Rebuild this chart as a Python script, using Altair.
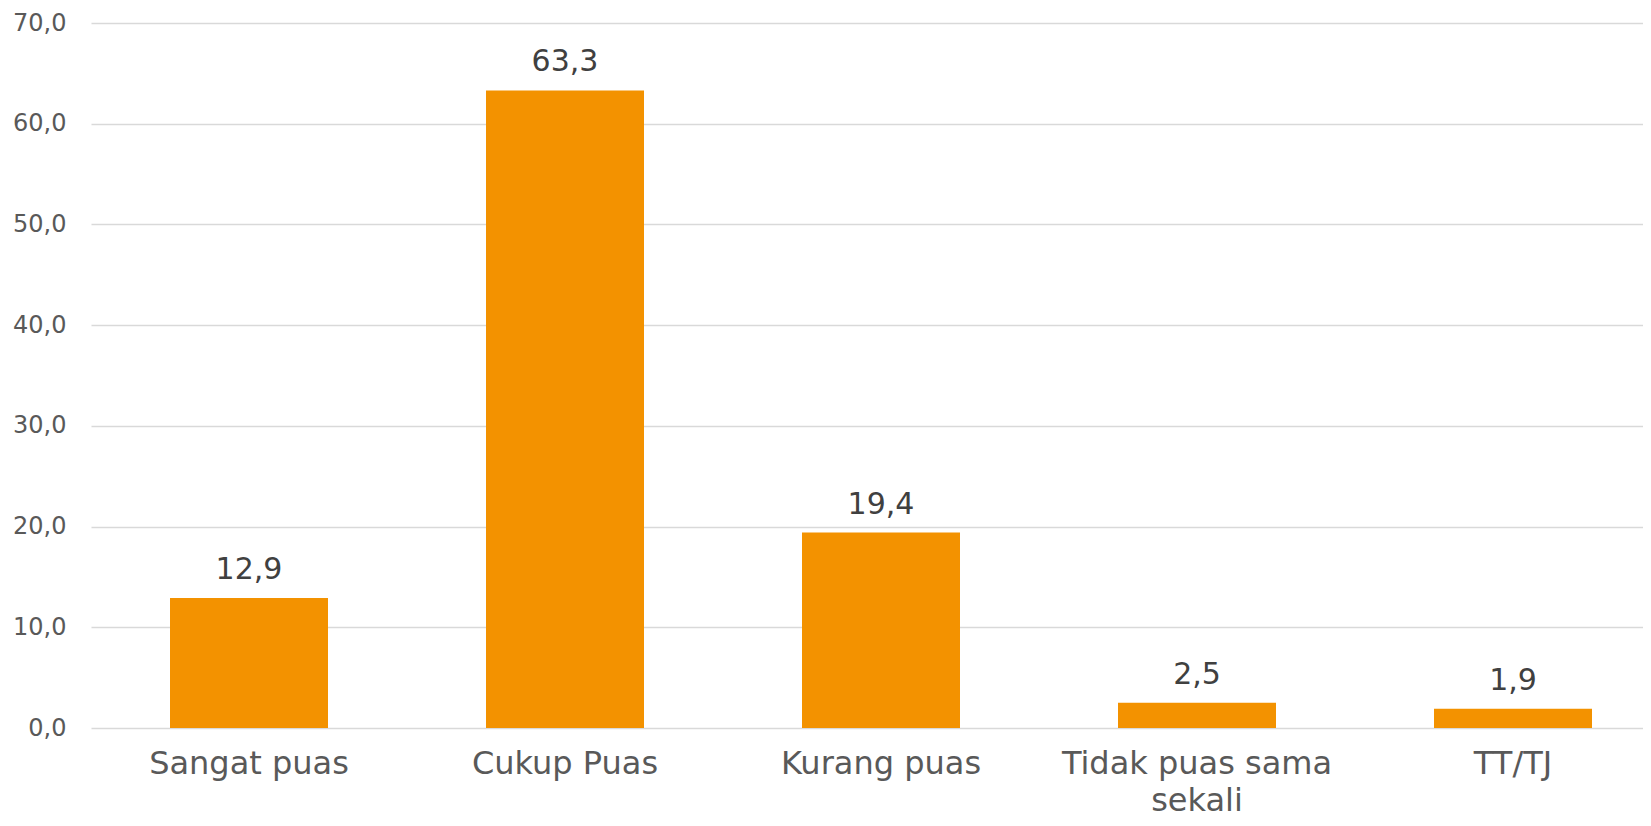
import altair as alt
import pandas as pd

categories = ["Sangat puas", "Cukup Puas", "Kurang puas", "Tidak puas sama sekali", "TT/TJ"]
values = [12.9, 63.3, 19.4, 2.5, 1.9]

df = pd.DataFrame({"kategori": categories, "nilai": values})

FONT = "DejaVu Sans"

x = alt.X("kategori:N", sort=categories, title=None,
          scale=alt.Scale(paddingInner=0.5, paddingOuter=0.25, range=[1, 1581]),
          axis=alt.Axis(labelAngle=0, domain=False, ticks=False, labelPadding=20,
                        labelFontSize=32, labelColor="#595959", labelFont=FONT,
                        labelLineHeight=37, labelBaseline="top", labelLimit=0,
                        labelExpr="datum.label == 'Tidak puas sama sekali' ? ['Tidak puas sama', 'sekali'] : datum.label"))
y = alt.Y("nilai:Q", title=None,
          scale=alt.Scale(domain=[0, 70], nice=False),
          axis=alt.Axis(values=[0, 10, 20, 30, 40, 50, 60, 70], domain=False, ticks=False,
                        labelPadding=24, labelFontSize=24, labelColor="#595959", labelFont=FONT,
                        gridColor="#D9D9D9", gridWidth=1.5,
                        labelExpr="replace(format(datum.value, '.1f'), '.', ',')"))

bars = alt.Chart(df).mark_bar(color="#F39200").encode(x=x, y=y)
labels = alt.Chart(df).transform_calculate(
    lab="replace(format(datum.nilai, '.1f'), '.', ',')"
).mark_text(baseline="alphabetic", dy=-19, fontSize=30, color="#404040", font=FONT).encode(
    x=alt.X("kategori:N", sort=categories), y="nilai:Q", text="lab:N")

chart = (bars + labels).properties(
    width=1553, height=705,
    autosize=alt.AutoSizeParams(type="none"),
    padding={"left": 82, "top": 15, "right": 0, "bottom": 90},
).configure_view(stroke=None)

chart.save("out.html", embed_options={"renderer": "svg", "actions": False})
